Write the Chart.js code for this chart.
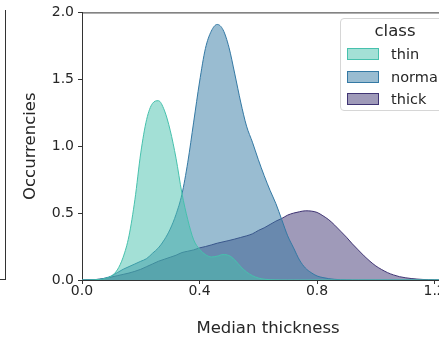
<!DOCTYPE html>
<html>
<head>
<meta charset="utf-8">
<script src="https://cdn.jsdelivr.net/npm/chart.js@4/dist/chart.umd.min.js"></script>
<style>
  html, body { margin: 0; padding: 0; background: #fff; overflow: hidden; width: 439px; height: 340px; }
  #wrap { position: relative; width: 439px; height: 340px; overflow: hidden; }
  #c { position: absolute; left: 0; top: 0; }
  #prev { position: absolute; left: -10px; top: 10px; width: 15px; height: 269px; border-right: 1px solid #333; border-bottom: 1px solid #333; }
  #legend { position: absolute; left: 340px; top: 18px; width: 108px; height: 93px; border: 1px solid #d6d6d6; border-radius: 4px; background: rgba(255,255,255,0.85); font-family: "DejaVu Sans", sans-serif; color: #262626; box-sizing: border-box; }
  #legend .title { position: absolute; left: 0; width: 108px; top: 2px; text-align: center; font-size: 16.5px; }
  #legend .item { position: absolute; left: 6px; height: 20px; font-size: 14.5px; line-height: 20px; white-space: nowrap; }
  #legend .patch { display: inline-block; width: 30px; height: 10px; vertical-align: middle; margin-right: 12px; position: relative; top: -1px; }
</style>
</head>
<body>
<div id="wrap">
  <div id="prev"></div>
  <canvas id="c" width="480" height="340" style="width:480px;height:340px"></canvas>
  <div id="legend"></div>
</div>
<script>
// Median thickness grid (x values)
const xs = [0.00,0.02,0.04,0.06,0.08,0.10,0.12,0.14,0.16,0.18,0.20,0.22,0.24,0.26,0.28,0.30,0.32,0.34,0.36,0.38,
            0.40,0.42,0.44,0.46,0.48,0.50,0.52,0.54,0.56,0.58,0.60,0.62,0.64,0.66,0.68,0.70,0.72,0.74,0.76,0.78,
            0.80,0.82,0.84,0.86,0.88,0.90,0.92,0.94,0.96,0.98,1.00,1.02,1.04,1.06,1.08,1.10,1.12,1.14,1.16,1.18,
            1.20,1.22,1.24,1.26];

const classNames = ["thin", "normal", "thick"];

const thinVals = [0,0,0.001,0.004,0.012,0.03,0.075,0.17,0.33,0.60,0.95,1.20,1.32,1.34,1.27,1.12,0.91,0.65,0.45,0.30,
                  0.23,0.19,0.172,0.178,0.19,0.183,0.15,0.10,0.06,0.032,0.015,0.006,0.002,0.001,0,0,0,0,0,0,
                  0,0,0,0,0,0,0,0,0,0,0,0,0,0,0,0,0,0,0,0,
                  0,0,0,0];

const normalVals = [0,0.001,0.002,0.006,0.015,0.03,0.055,0.08,0.10,0.12,0.14,0.16,0.20,0.24,0.30,0.38,0.49,0.64,0.88,1.18,
                    1.48,1.73,1.86,1.91,1.87,1.74,1.54,1.33,1.15,1.03,0.90,0.78,0.67,0.57,0.45,0.33,0.24,0.15,0.09,0.055,
                    0.03,0.018,0.01,0.005,0.002,0.001,0,0,0,0,0,0,0,0,0,0,0,0,0,0,
                    0,0,0,0];

const thickVals = [0,0.001,0.002,0.006,0.013,0.022,0.032,0.042,0.052,0.065,0.08,0.10,0.12,0.14,0.155,0.17,0.185,0.205,0.215,0.225,
                   0.24,0.25,0.262,0.275,0.285,0.295,0.306,0.318,0.33,0.345,0.37,0.39,0.415,0.44,0.46,0.485,0.50,0.51,0.517,0.515,
                   0.505,0.48,0.45,0.41,0.365,0.32,0.27,0.225,0.18,0.14,0.105,0.078,0.055,0.038,0.025,0.017,0.011,0.007,0.004,0.002,
                   0.001,0,0,0];

const yTicks = [0.0, 0.5, 1.0, 1.5, 2.0];
const xTicks = [0.0, 0.4, 0.8, 1.2];

const lineColors = ["#47c1ad", "#3479a4", "#403574"];
const fillColors = ["rgba(71,193,173,0.5)", "rgba(52,121,164,0.5)", "rgba(64,53,116,0.5)"];

const seriesVals = [thinVals, normalVals, thickVals];
const datasets = classNames.map((name, i) => ({
  label: name,
  data: xs.map((x, j) => ({ x: x, y: seriesVals[i][j] })),
  borderColor: lineColors[i],
  backgroundColor: fillColors[i],
  borderWidth: 1,
  fill: 'origin',
  pointRadius: 0,
  cubicInterpolationMode: 'monotone'
}));

const FONT = "'DejaVu Sans', sans-serif";
const TXT = "#262626";

const frame = {
  id: 'frame',
  afterDatasetsDraw(chart) {
    const { ctx, chartArea: a } = chart;
    ctx.save();
    ctx.strokeStyle = '#333';
    ctx.lineWidth = 1;
    ctx.beginPath();
    ctx.moveTo(a.left, a.top + 0.5);
    ctx.lineTo(a.right, a.top + 0.5);
    ctx.moveTo(a.right - 0.5, a.top);
    ctx.lineTo(a.right - 0.5, a.bottom);
    ctx.stroke();
    ctx.restore();
  }
};

new Chart(document.getElementById('c'), {
  type: 'line',
  data: { datasets },
  plugins: [frame],
  options: {
    responsive: false,
    animation: false,
    devicePixelRatio: 1,
    layout: { padding: { top: 10, right: 26, left: 0, bottom: 0 } },
    plugins: { legend: { display: false }, tooltip: { enabled: false } },
    scales: {
      x: {
        type: 'linear',
        min: 0, max: 1.266,
        afterFit(s) { s.height = 60; },
        afterBuildTicks(s) { s.ticks = xTicks.map(v => ({ value: v })); },
        ticks: { font: { family: FONT, size: 14 }, color: TXT, padding: -1, maxRotation: 0,
                 callback: v => v.toFixed(1) },
        grid: { drawOnChartArea: false, tickLength: 4, tickColor: '#333', tickWidth: 1 },
        border: { color: '#333', width: 1 },
        title: { display: true, text: 'Median thickness', font: { family: FONT, size: 16.5 }, color: TXT,
                 padding: { top: 0, bottom: 1 } }
      },
      y: {
        type: 'linear',
        min: 0, max: 2,
        afterFit(s) { s.width = 82; },
        afterBuildTicks(s) { s.ticks = yTicks.map(v => ({ value: v })); },
        ticks: { font: { family: FONT, size: 14 }, color: TXT, padding: 4,
                 callback: v => v.toFixed(1) },
        grid: { drawOnChartArea: false, tickLength: 4, tickColor: '#333', tickWidth: 1 },
        border: { color: '#333', width: 1 },
        title: { display: true, text: 'Occurrencies', font: { family: FONT, size: 16.5 }, color: TXT,
                 padding: { top: 21, bottom: 0 } }
      }
    }
  }
});

// legend built from the series names and colours
const lg = document.getElementById('legend');
const t = document.createElement('div');
t.className = 'title'; t.textContent = 'class';
lg.appendChild(t);
classNames.forEach((name, i) => {
  const it = document.createElement('div');
  it.className = 'item';
  it.style.top = (25 + i * 22.5) + 'px';
  const p = document.createElement('span');
  p.className = 'patch';
  p.style.background = fillColors[i];
  p.style.border = '1px solid ' + lineColors[i];
  it.appendChild(p);
  it.appendChild(document.createTextNode(name));
  lg.appendChild(it);
});
</script>
</body>
</html>
